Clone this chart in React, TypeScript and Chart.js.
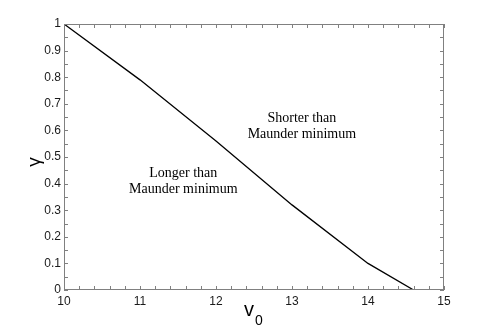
import React, { useEffect, useRef } from "react";
import { Chart, registerables } from "chart.js";

Chart.register(...registerables);

// Data
const v0Values = [10, 11, 12, 13, 14, 14.6];
const gammaValues = [1, 0.79, 0.56, 0.32, 0.1, 0];

const xTickStep = 1;
const xMinorStep = 0.2;
const yTickStep = 0.1;
const yMinorStep = 0.05;

const annotationLines = [
  ["Shorter than", "Maunder minimum"],
  ["Longer than", "Maunder minimum"],
];
const annotationX = [13.13, 11.57];
const annotationY = [0.617, 0.41];

const xTitle = "v";
const xTitleSub = "0";
const yTitle = "γ";

const AXIS_COLOR = "#808080";
const TEXT_COLOR = "#1a1a1a";

const framePlugin = {
  id: "frameAndDecor",
  afterDraw(chart: any) {
    const { ctx, chartArea: a, scales } = chart;
    const xs = scales.x;
    const ys = scales.y;
    ctx.save();
    // box
    ctx.strokeStyle = AXIS_COLOR;
    ctx.lineWidth = 1;
    ctx.strokeRect(a.left + 0.5, a.top + 0.5, a.right - a.left - 1, a.bottom - a.top - 1);
    // inward ticks
    const tl = 4;
    ctx.beginPath();
    for (let v = xs.min; v <= xs.max + 1e-9; v += xMinorStep) {
      const px = Math.round(xs.getPixelForValue(v)) + 0.5;
      ctx.moveTo(px, a.bottom);
      ctx.lineTo(px, a.bottom - tl);
      ctx.moveTo(px, a.top);
      ctx.lineTo(px, a.top + tl);
    }
    for (let v = ys.min; v <= ys.max + 1e-9; v += yMinorStep) {
      const py = Math.round(ys.getPixelForValue(v)) + 0.5;
      ctx.moveTo(a.left, py);
      ctx.lineTo(a.left + tl, py);
      ctx.moveTo(a.right, py);
      ctx.lineTo(a.right - tl, py);
    }
    ctx.stroke();

    // annotations
    ctx.fillStyle = "#000";
    ctx.font = '14px "Liberation Serif", "Times New Roman", serif';
    ctx.textAlign = "center";
    ctx.textBaseline = "middle";
    annotationLines.forEach((lines, i) => {
      const cx = xs.getPixelForValue(annotationX[i]);
      const cy = ys.getPixelForValue(annotationY[i]);
      const lh = 16;
      lines.forEach((t, j) => {
        ctx.fillText(t, cx, cy + (j - (lines.length - 1) / 2) * lh);
      });
    });

    // axis titles
    ctx.fillStyle = "#000";
    ctx.font = '20px "Liberation Sans", Arial, sans-serif';
    ctx.textAlign = "left";
    ctx.textBaseline = "alphabetic";
    const xMid = (a.left + a.right) / 2;
    ctx.fillText(xTitle, xMid - 10, 316);
    const vw = ctx.measureText(xTitle).width;
    ctx.font = '14px "Liberation Sans", Arial, sans-serif';
    ctx.fillText(xTitleSub, xMid - 10 + vw + 1, 325);

    ctx.save();
    ctx.translate(40, (a.top + a.bottom) / 2 + 5);
    ctx.rotate(-Math.PI / 2);
    ctx.font = '19px "Liberation Sans", Arial, sans-serif';
    ctx.textAlign = "center";
    ctx.textBaseline = "alphabetic";
    ctx.fillText(yTitle, 0, 0);
    ctx.restore();

    ctx.restore();
  },
};

export default function App() {
  const ref = useRef<HTMLCanvasElement>(null);
  useEffect(() => {
    document.body.style.margin = "0";
    const chart = new Chart(ref.current as HTMLCanvasElement, {
      type: "line",
      data: {
        datasets: [
          {
            data: v0Values.map((x, i) => ({ x, y: gammaValues[i] })),
            borderColor: "#000",
            borderWidth: 1.3,
            pointRadius: 0,
            fill: false,
            tension: 0,
          },
        ],
      },
      options: {
        responsive: false,
        animation: false,
        events: [],
        layout: { padding: { left: 0, top: 24, right: 47, bottom: 0 } },
        plugins: { legend: { display: false }, tooltip: { enabled: false } },
        scales: {
          x: {
            type: "linear",
            min: 10,
            max: 15,
            afterFit: (s: any) => {
              s.height = 39;
            },
            grid: { display: false, drawTicks: false },
            border: { display: false },
            ticks: {
              stepSize: xTickStep,
              padding: 4,
              color: TEXT_COLOR,
              font: { family: '"Liberation Sans", Arial, sans-serif', size: 12 },
              maxRotation: 0,
              callback: (v: any) => String(Math.round(Number(v))),
            },
          },
          y: {
            type: "linear",
            min: 0,
            max: 1,
            afterFit: (s: any) => {
              s.width = 64;
            },
            grid: { display: false, drawTicks: false },
            border: { display: false },
            ticks: {
              stepSize: yTickStep,
              padding: 3,
              color: TEXT_COLOR,
              font: { family: '"Liberation Sans", Arial, sans-serif', size: 12 },
              callback: (v: any) => String(Math.round(Number(v) * 10) / 10),
            },
          },
        },
      },
      plugins: [framePlugin],
    });
    return () => chart.destroy();
  }, []);
  return (
    <div style={{ width: 491, height: 329, background: "#fff" }}>
      <canvas ref={ref} width={491} height={329} />
    </div>
  );
}
